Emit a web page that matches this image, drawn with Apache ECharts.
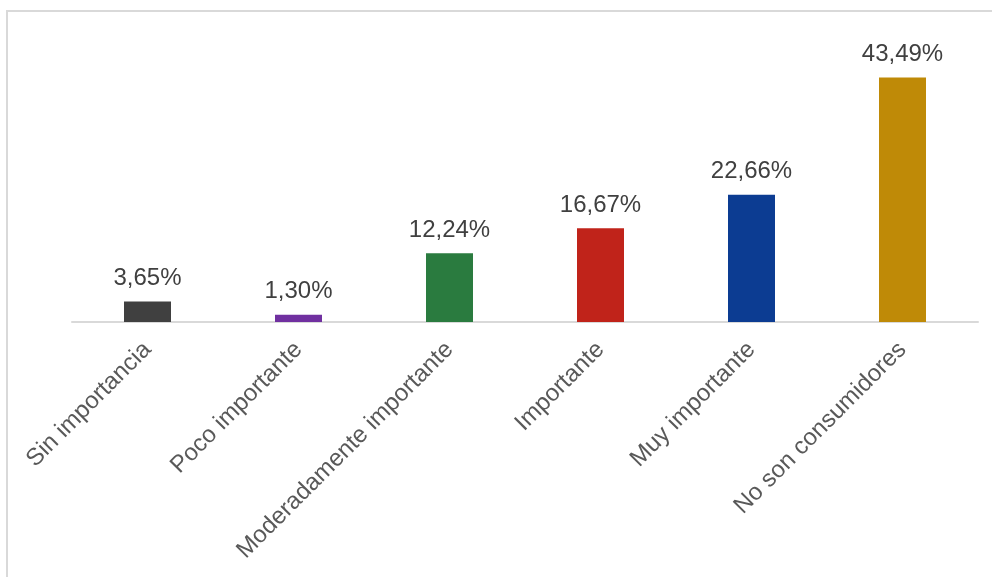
<!DOCTYPE html>
<html>
<head>
<meta charset="utf-8">
<script src="https://cdn.jsdelivr.net/npm/echarts@6/dist/echarts.min.js"></script>
<style>
  html, body { margin: 0; padding: 0; background: #ffffff; }
  #chart { width: 992px; height: 577px; }
</style>
</head>
<body>
<div id="chart"></div>
<script>
// Importance categories and their share of respondents (%)
const categories = [
  'Sin importancia',
  'Poco importante',
  'Moderadamente importante',
  'Importante',
  'Muy importante',
  'No son consumidores'
];
const values = [3.65, 1.30, 12.24, 16.67, 22.66, 43.49];
const barColors = ['#404040', '#7030a0', '#2a7b3f', '#c0231a', '#0c3c92', '#bf8a07'];

const FONT = '"Liberation Sans", Arial, sans-serif';

const chart = echarts.init(document.getElementById('chart'), null, { renderer: 'canvas' });

chart.setOption({
  animation: false,
  backgroundColor: '#ffffff',
  graphic: [{
    type: 'rect',
    shape: { x: 7, y: 11, width: 1000, height: 600 },
    style: { fill: 'none', stroke: '#d9d9d9', lineWidth: 2 },
    silent: true,
    z: 100
  }],
  grid: { left: 72, right: 14, top: 41, bottom: 255, containLabel: false },
  xAxis: {
    type: 'category',
    data: categories,
    axisLine: { show: true, lineStyle: { color: '#d9d9d9', width: 2 } },
    axisTick: { show: false },
    axisLabel: {
      interval: 0,
      rotate: 45,
      margin: 24,
      color: '#595959',
      fontSize: 24,
      fontFamily: FONT
    }
  },
  yAxis: {
    type: 'value',
    min: 0,
    max: 50,
    show: false,
    splitLine: { show: false }
  },
  series: [{
    type: 'bar',
    barWidth: 47,
    data: values.map((v, i) => ({ value: v, itemStyle: { color: barColors[i] } })),
    label: {
      show: true,
      position: 'top',
      distance: 11,
      color: '#404040',
      fontSize: 24,
      fontFamily: FONT,
      formatter: p => p.value.toFixed(2).replace('.', ',') + '%'
    }
  }]
});
</script>
</body>
</html>
